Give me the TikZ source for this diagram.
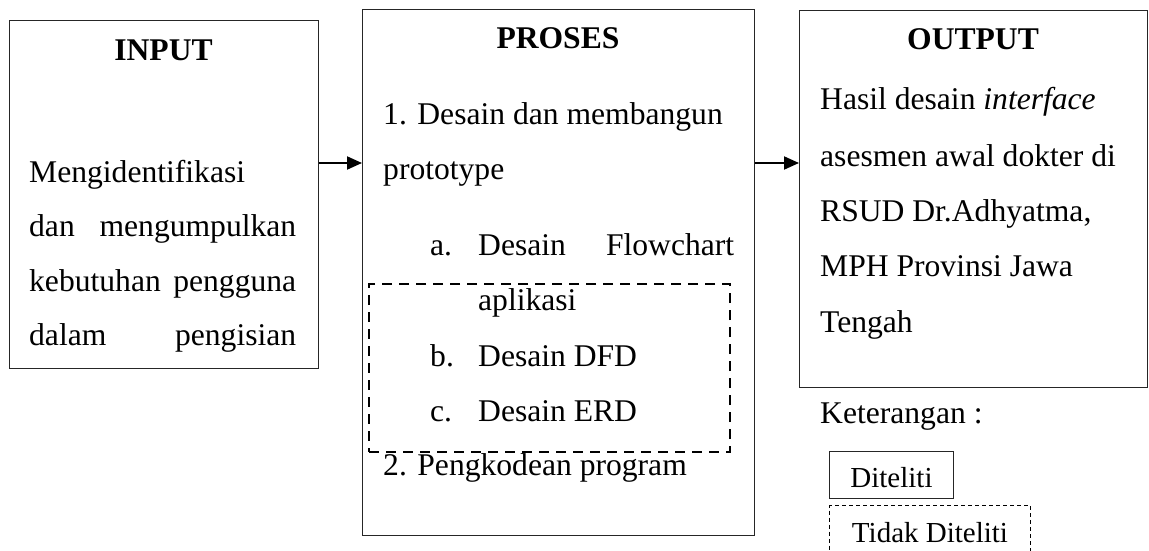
\documentclass[tikz,border=0pt]{standalone}
\usepackage{fontspec}
\setmainfont{Liberation Serif}
\usetikzlibrary{arrows.meta}
\tikzset{
  panel/.style={draw=black!85, line width=1.3pt, anchor=north west, inner sep=0pt},
  dashpanel/.style={draw=black, line width=2pt, dash pattern=on 10pt off 7pt, anchor=north west, inner sep=0pt},
  legbox/.style={draw=black!85, line width=1pt, anchor=north west, inner sep=0pt, font=\legfont},
  legdash/.style={draw=black, line width=1pt, dash pattern=on 4pt off 3pt, anchor=north west, inner sep=0pt, font=\legfont},
  txt/.style={anchor=base west, inner sep=0pt, font=\bodyfont},
  head/.style={anchor=base, inner sep=0pt, font=\headfont},
  flow/.style={line width=2pt, -{Triangle[length=15pt,width=13pt]}}
}
\newcommand\bodyfont{\fontsize{31.6}{40}\selectfont}
\newcommand\headfont{\fontsize{31.6}{40}\selectfont\bfseries}
\newcommand\legfont{\fontsize{29}{36}\selectfont}
\begin{document}
\begin{tikzpicture}[x=1pt,y=-1pt]
\useasboundingbox (0,0) rectangle (1149,551);

% three main panels
\node[panel, minimum width=309pt, minimum height=348pt] (input) at (9,20) {};
\node[panel, minimum width=392pt, minimum height=526pt] (proses) at (362,9) {};
\node[panel, minimum width=348pt, minimum height=377pt] (output) at (799,10) {};

% part of the process that is not examined
\node[dashpanel, minimum width=361pt, minimum height=168pt] (notex) at (368,283) {};

% INPUT
\node[head] (hin) at (163.5,60) {INPUT};
\node[txt] (in1) at (29,182) {Mengidentifikasi};
\node[txt] (in2) at (29,236.5) {\hbox to 267pt{dan\hfill mengumpulkan}};
\node[txt] (in3) at (29,291) {\hbox to 267pt{kebutuhan\hfill pengguna}};
\node[txt] (in4) at (29,345.5) {\hbox to 267pt{dalam\hfill pengisian}};

% PROSES
\node[head] (hpr) at (558,49) {PROSES};
\node[txt] (p1) at (383,124.5) {1. Desain dan membangun};
\node[txt] (p2) at (383,179) {prototype};
\node[txt] (pa) at (430,255.5) {a.};
\node[txt] (pa2) at (478,255.5) {\hbox to 256pt{Desain\hfill Flowchart}};
\node[txt] (pa3) at (478,310.5) {aplikasi};
\node[txt] (pb) at (430,366) {b.};
\node[txt] (pb2) at (478,366) {Desain DFD};
\node[txt] (pc) at (430,421) {c.};
\node[txt] (pc2) at (478,421) {Desain ERD};
\node[txt] (p3) at (383,475.5) {2. Pengkodean program};

% OUTPUT
\node[head] (hout) at (973,50) {OUTPUT};
\node[txt] (o1) at (820,110) {Hasil desain \textit{interface}};
\node[txt] (o2) at (820,166) {asesmen awal dokter di};
\node[txt] (o3) at (820,221) {RSUD Dr.Adhyatma,};
\node[txt] (o4) at (820,276) {MPH Provinsi Jawa};
\node[txt] (o5) at (820,332) {Tengah};

% legend
\node[txt] (ket) at (820,423) {Keterangan :};
\node[legbox, minimum width=124pt, minimum height=47pt] (l1) at (829,451) {};
\node[anchor=base, inner sep=0pt, font=\legfont] (l1t) at (l1.center |- 0,487) {Diteliti};
\node[legdash, minimum width=201pt, minimum height=48pt] (l2) at (829,505) {};
\node[anchor=base, inner sep=0pt, font=\legfont] (l2t) at (l2.center |- 0,542) {Tidak Diteliti};

% connectors
\coordinate (ay) at (0,163);
\draw[flow] (input.east |- ay) -- (proses.west |- ay);
\draw[flow] (proses.east |- ay) -- (output.west |- ay);
\end{tikzpicture}
\end{document}
